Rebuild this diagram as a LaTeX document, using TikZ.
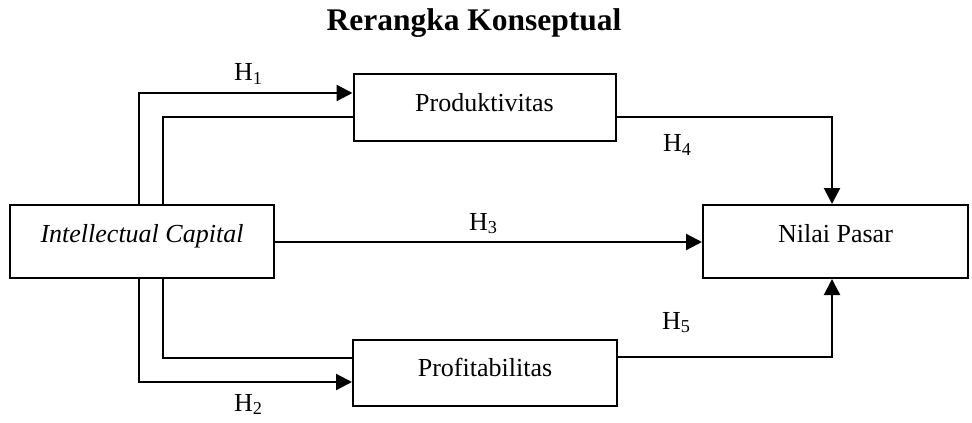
\documentclass[tikz,border=0pt]{standalone}
\usepackage{fontspec}
\setmainfont{Liberation Serif}
\usetikzlibrary{arrows.meta}
\tikzset{
  box/.style={draw, line width=1pt, minimum width=264pt*0.5, minimum height=73pt*0.5,
    inner sep=0pt, text height=9pt, text depth=8pt, font=\fontsize{13}{15}\selectfont},
  hlabel/.style={anchor=base west, inner sep=0pt, font=\fontsize{13}{15}\selectfont},
  arr/.style={-{Triangle[length=8pt,width=8pt]}}
}
\begin{document}
\begin{tikzpicture}[x=0.5pt,y=-0.5pt,line width=1.1pt]
            \useasboundingbox (0,0) rectangle (972,422);
            % Title
            \node [anchor=base, font=\fontsize{15.75}{18}\selectfont\bfseries] (title) at (474,31) {Rerangka Konseptual};

            % Boxes
            \node [box] (ic) at (142,241.5) {\textit{Intellectual Capital}};
            \node [box, minimum width=262pt*0.5, minimum height=67pt*0.5, text depth=4.5pt] (prod) at (484.5,107.5) {Produktivitas};
            \node [box, minimum height=66pt*0.5, text depth=6pt] (prof) at (485,373) {Profitabilitas};
            \node [box, minimum width=265pt*0.5] (np) at (835.5,241.5) {Nilai Pasar};

            % Bends
            \coordinate (oT) at (139,93);
            \coordinate (iT) at (163,117);
            \coordinate (iB) at (163,358);
            \coordinate (oB) at (139,382);
            \coordinate (pr) at (832,117);
            \coordinate (pf) at (832,357);
            \coordinate (mid) at (480,242);

            \draw [arr] (ic.north -| oT) |- (prod.west |- oT);
            \draw [] (ic.north -| iT) |- (prod.west |- iT);
            \draw [] (ic.south -| iB) |- (prof.west |- iB);
            \draw [arr] (ic.south -| oB) |- (prof.west |- oB);
            \draw [arr] (ic.east |- mid) -- (np.west |- mid);
            \draw [arr] (prod.east |- pr) -| (np.north -| pr);
            \draw [arr] (prof.east |- pf) -| (np.south -| pf);

            % Labels
            \node [hlabel] (h1) at (233,81) {H\textsubscript{1}};
            \node [hlabel] (h2) at (233,411) {H\textsubscript{2}};
            \node [hlabel] (h3) at (468,230) {H\textsubscript{3}};
            \node [hlabel] (h4) at (662,152) {H\textsubscript{4}};
            \node [hlabel] (h5) at (661,329) {H\textsubscript{5}};
        \end{tikzpicture}
\end{document}
